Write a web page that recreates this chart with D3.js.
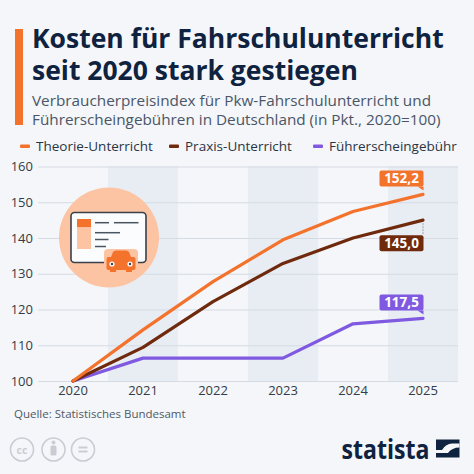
<!DOCTYPE html>
<html><head><meta charset="utf-8">
<script src="https://cdn.jsdelivr.net/npm/d3@7"></script>
<style>
html,body{margin:0;padding:0;background:#f4f6f9;}
svg{display:block;font-family:"Open Sans",sans-serif;}
</style></head>
<body><svg id="c" width="474" height="474"></svg>
<script>
const years = [2020, 2021, 2022, 2023, 2024, 2025];
const theorie = [100, 114.3, 127.8, 139.5, 147.4, 152.2];
const praxis = [100, 109.4, 122.2, 132.9, 140.0, 145.0];
const fuehrer = [100, 106.4, 106.4, 106.4, 116.0, 117.5];
const seriesNames = ["Theorie-Unterricht", "Praxis-Unterricht", "Führerscheingebühr"];
const yTicks = [100, 110, 120, 130, 140, 150, 160];
const endLabels = ["152,2", "145,0", "117,5"];

const colors = ["#f3722c", "#6f2a0e", "#7f5ae0"];
const series = [theorie, praxis, fuehrer];

const svg = d3.select("#c");
svg.append("rect").attr("width",474).attr("height",474).attr("fill","#f4f6f9");

// Title
svg.append("rect").attr("x",15).attr("y",29).attr("width",8).attr("height",96).attr("fill","#f3722c");
const title = svg.append("text").attr("fill","#0f2240").attr("font-weight",700).attr("font-size",26.5);
title.append("tspan").attr("x",32).attr("y",48).text("Kosten für Fahrschulunterricht");
title.append("tspan").attr("x",32).attr("y",80).text("seit 2020 stark gestiegen");
const sub = svg.append("text").attr("fill","#4a5566").attr("font-size",15.3);
sub.append("tspan").attr("x",32).attr("y",106).text("Verbraucherpreisindex für Pkw-Fahrschulunterricht und");
sub.append("tspan").attr("x",32).attr("y",125).text("Führerscheingebühren in Deutschland (in Pkt., 2020=100)");

// Legend
const legX = [20, 169, 313];
seriesNames.forEach((n,i)=>{
  svg.append("rect").attr("x",legX[i]).attr("y",144.5).attr("width",10).attr("height",3.5).attr("rx",1).attr("fill",colors[i]);
  svg.append("text").attr("x",legX[i]+16).attr("y",151).attr("font-size",13.5).attr("fill","#2b3442").text(n);
});

// Scales
const x = d3.scaleBand().domain(years).range([38, 458]).padding(0);
const cx = d => x(d) + x.bandwidth()/2;
const y = d3.scaleLinear().domain([100,160]).range([381, 166.5]);

// Column bands
svg.append("g").selectAll("rect").data(years.filter((d,i)=>i%2===1)).join("rect")
  .attr("x",d=>x(d)).attr("width",x.bandwidth()).attr("y",y(160)).attr("height",y(100)-y(160))
  .attr("fill","#e8edf4");

// Y axis + grid
const ya = svg.append("g").attr("transform","translate(38,0)")
  .call(d3.axisLeft(y).tickValues(yTicks).tickSize(-420).tickPadding(5).tickFormat(d3.format("d")));
ya.select(".domain").remove();
ya.selectAll(".tick line").attr("stroke","#d5dbe3").attr("stroke-width",1);
ya.selectAll(".tick text").attr("font-size",13).attr("fill","#333c48").attr("font-family","Open Sans");

// X axis
const xa = svg.append("g").attr("transform","translate(0,381)")
  .call(d3.axisBottom(x).tickSize(0).tickPadding(5));
xa.select(".domain").remove();
xa.selectAll(".tick text").attr("font-size",13).attr("fill","#333c48").attr("font-family","Open Sans");

// Icon
const ic = svg.append("g");
ic.append("circle").attr("cx",109).attr("cy",237.5).attr("r",50).attr("fill","#fcc4a2");
ic.append("rect").attr("x",71).attr("y",212.5).attr("width",75).attr("height",50).attr("rx",3.5)
  .attr("fill","#fbfcfe").attr("stroke","#3a404b").attr("stroke-width",1.6);
ic.append("rect").attr("x",77).attr("y",219).attr("width",14).attr("height",8.5).attr("fill","#f3722c");
ic.append("rect").attr("x",77).attr("y",227.5).attr("width",14).attr("height",21.5).attr("fill","#fcc4a2");
const icl = [[95,109,222.7],[114,138.5,222.7],[95,120,232.7],[95,108.5,239.5],[95,106,246.5]];
icl.forEach(l=>ic.append("line").attr("x1",l[0]).attr("x2",l[1]).attr("y1",l[2]).attr("y2",l[2])
  .attr("stroke","#4a5562").attr("stroke-width",1.5));
ic.append("rect").attr("x",104).attr("y",249).attr("width",34).attr("height",24).attr("rx",4).attr("fill","#fcc4a2");
ic.append("path").attr("fill","#f3722c")
  .attr("d","M111,257 L113,252 Q114,250.5 116,250.5 L126,250.5 Q128,250.5 129,252 L131,257 L133.5,257 Q135.5,257 135.5,259 L135.5,268 Q135.5,270 133.5,270 L132,270 L132,272 L126,272 L126,270 L116,270 L116,272 L110,272 L110,270 L108.5,270 Q106.5,270 106.5,268 L106.5,259 Q106.5,257 108.5,257 Z");
[112,130].forEach(wx=>{
  ic.append("circle").attr("cx",wx).attr("cy",264).attr("r",2.6).attr("fill","#fbfcfe");
  ic.append("circle").attr("cx",wx).attr("cy",264).attr("r",1.2).attr("fill","#3a404b");
});

// Lines
const line = d3.line().x((d,i)=>cx(years[i])).y(d=>y(d));
[2,1,0].forEach(i=>{
  svg.append("path").datum(series[i]).attr("d",line).attr("fill","none")
    .attr("stroke",colors[i]).attr("stroke-width",3.2).attr("stroke-linejoin","round").attr("stroke-linecap","round");
});

// End labels
const last = years[years.length-1];
const lx = cx(last);
const placements = ["above","below","above"];
series.forEach((s,i)=>{
  const v = s[s.length-1];
  const py = y(v);
  const w = 44, h = 16;
  const bx = lx - w + 0.5;
  let by;
  const g = svg.append("g");
  if (placements[i]==="above") {
    by = py - 8 - h;
    g.append("path").attr("fill",colors[i])
      .attr("d",`M${bx+w-6},${by+h} L${bx+w},${by+h} L${bx+w},${by+h+4} Z`);
  } else {
    by = py + 15;
    g.append("line").attr("x1",lx).attr("x2",lx).attr("y1",py+3).attr("y2",by)
      .attr("stroke","#9aa3ad").attr("stroke-width",1).attr("stroke-dasharray","2,1");
  }
  g.append("rect").attr("x",bx).attr("y",by).attr("width",w).attr("height",h).attr("rx",2).attr("fill",colors[i]);
  g.append("text").attr("x",bx+w/2).attr("y",by+h/2+4.8).attr("text-anchor","middle")
    .attr("font-size",13.5).attr("font-weight",700).attr("fill","#fff").text(endLabels[i]);
});

// Source
svg.append("text").attr("x",14).attr("y",418).attr("font-size",11.5).attr("fill","#4f5966").text("Quelle: Statistisches Bundesamt");

// CC icons
const ccg = svg.append("g").attr("stroke","#c9cdd3").attr("fill","none").attr("stroke-width",1.6);
[22,53.5,83].forEach(c=>ccg.append("circle").attr("cx",c).attr("cy",449.5).attr("r",11.5));
svg.append("text").attr("x",22).attr("y",453.5).attr("text-anchor","middle").attr("font-size",10.5).attr("font-weight",700).attr("fill","#c9cdd3").text("cc");
svg.append("circle").attr("cx",53.5).attr("cy",442.5).attr("r",2).attr("fill","#c9cdd3");
svg.append("rect").attr("x",50.5).attr("y",445.5).attr("width",6).attr("height",10).attr("rx",1.5).attr("fill","#c9cdd3");
[447.5,451.5].forEach(yy=>svg.append("rect").attr("x",78.5).attr("y",yy-1).attr("width",9).attr("height",2).attr("fill","#c9cdd3"));

// Statista logo
svg.append("text").attr("x",341.5).attr("y",458.5).attr("font-size",26).attr("font-weight",700)
  .attr("fill","#0f2240").attr("font-family","Open Sans")
  .attr("textLength",88).attr("lengthAdjust","spacingAndGlyphs").text("statista");
svg.append("rect").attr("x",436).attr("y",439.5).attr("width",23.5).attr("height",18).attr("fill","#0f2240");
svg.append("path").attr("fill","#f4f6f9")
  .attr("d","M436,450 L442,450 Q446,443.5 452,443.5 L459.5,443.5 L459.5,447.5 Q452,447.5 448,453 L436,453 Z");
</script>
</body></html>
